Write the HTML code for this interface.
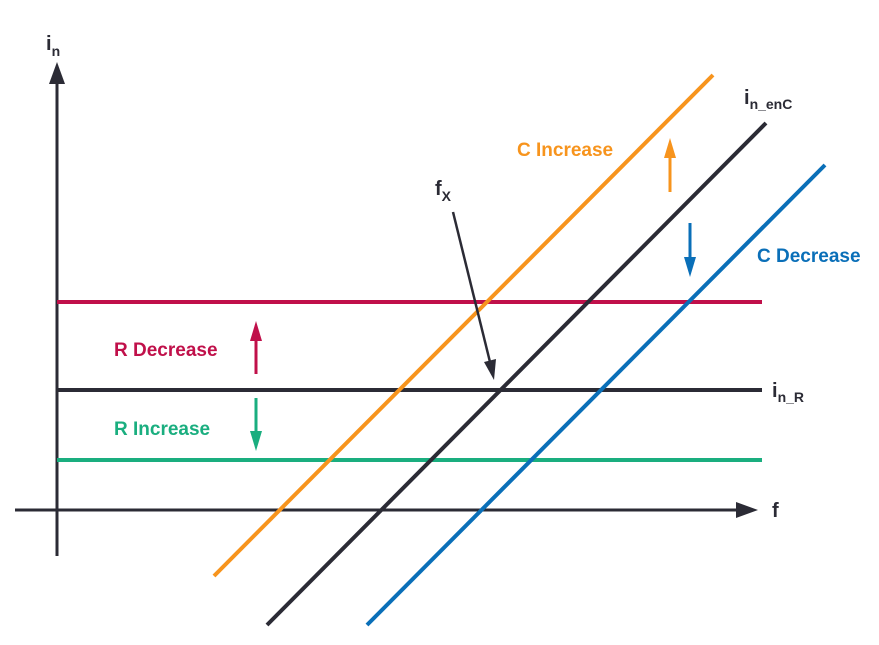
<!DOCTYPE html>
<html><head><style>
html,body{margin:0;padding:0;background:#fff;}
svg{display:block;}
text{font-family:"Liberation Sans",sans-serif;font-weight:bold;}
</style></head><body>
<svg width="879" height="645" viewBox="0 0 879 645" xmlns="http://www.w3.org/2000/svg">
<line x1="57" y1="556" x2="57" y2="80" stroke="#2b2b35" stroke-width="3"/>
<path d="M49,84 L57,62 L65,84 z" fill="#2b2b35"/>
<line x1="15" y1="510" x2="740" y2="510" stroke="#2b2b35" stroke-width="3"/>
<path d="M736,502 L758,510 L736,518 z" fill="#2b2b35"/>
<line x1="57" y1="302" x2="762" y2="302" stroke="#c0104a" stroke-width="4"/>
<line x1="57" y1="390" x2="762" y2="390" stroke="#2b2b35" stroke-width="4"/>
<line x1="57" y1="460" x2="762" y2="460" stroke="#1aae7f" stroke-width="4"/>
<line x1="214" y1="576" x2="713" y2="75" stroke="#f7941d" stroke-width="4"/>
<line x1="267" y1="625" x2="766" y2="123" stroke="#2b2b35" stroke-width="4"/>
<line x1="367" y1="625" x2="825" y2="165" stroke="#0a6fb8" stroke-width="4"/>
<line x1="670" y1="192" x2="670" y2="155" stroke="#f7941d" stroke-width="3"/>
<path d="M664,158 L670,138 L676,158 z" fill="#f7941d"/>
<line x1="690" y1="223" x2="690" y2="260" stroke="#0a6fb8" stroke-width="3"/>
<path d="M684,257 L690,277 L696,257 z" fill="#0a6fb8"/>
<line x1="256" y1="374" x2="256" y2="338" stroke="#c0104a" stroke-width="3"/>
<path d="M250,341 L256,321 L262,341 z" fill="#c0104a"/>
<line x1="256" y1="398" x2="256" y2="434" stroke="#1aae7f" stroke-width="3"/>
<path d="M250,431 L256,451 L262,431 z" fill="#1aae7f"/>
<line x1="453" y1="212" x2="490" y2="362" stroke="#2b2b35" stroke-width="2.5"/>
<path d="M484,362 L494,380 L496,359 z" fill="#2b2b35"/>
<text x="46" y="50" font-size="20" fill="#2b2b35">i<tspan font-size="14" dy="6">n</tspan></text>
<text x="772" y="517" font-size="20" fill="#2b2b35">f</text>
<text x="435" y="195" font-size="20" fill="#2b2b35">f<tspan font-size="14" dy="6">X</tspan></text>
<text x="744" y="104" font-size="20" fill="#2b2b35">i<tspan font-size="14" dy="5">n_enC</tspan></text>
<text x="772" y="397" font-size="20" fill="#2b2b35">i<tspan font-size="14" dy="5">n_R</tspan></text>
<text x="517" y="156" font-size="19" fill="#f7941d">C Increase</text>
<text x="757" y="262" font-size="19" fill="#0a6fb8">C Decrease</text>
<text x="114" y="356" font-size="19" fill="#c0104a">R Decrease</text>
<text x="114" y="435" font-size="19" fill="#1aae7f">R Increase</text>
</svg>
</body></html>
